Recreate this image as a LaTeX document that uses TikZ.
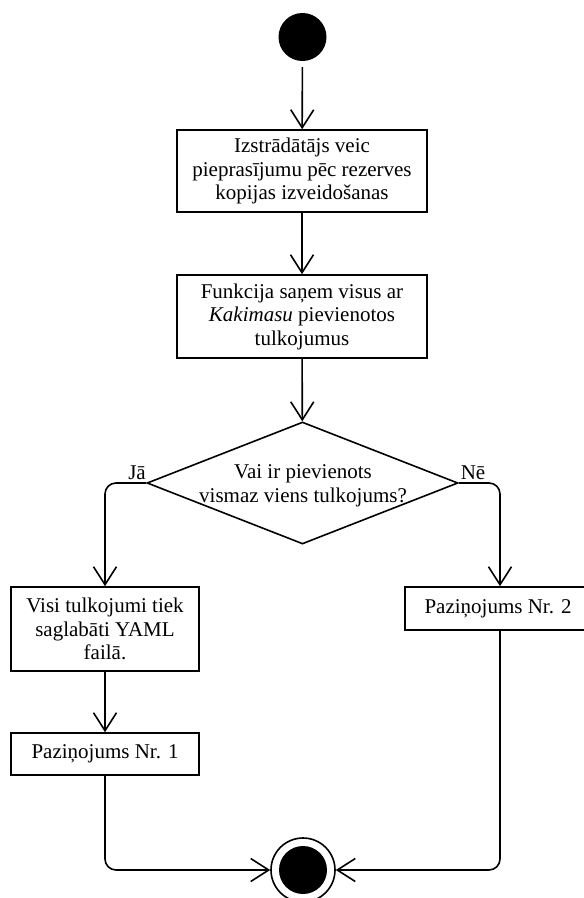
\documentclass[tikz,border=0pt]{standalone}
\usepackage{fontspec}
\setmainfont{Liberation Serif}
\usetikzlibrary{arrows.meta,shapes.geometric}

\tikzset{
  flow/.style={line width=1.6pt, -{Straight Barb[length=18pt,width=23pt,line width=1.6pt]}, rounded corners=11pt},
  action/.style={draw, line width=1.6pt, rectangle, inner sep=0pt, align=center,
                 font=\fontsize{21}{23.5}\selectfont},
  decision/.style={draw, line width=1.6pt, diamond, inner sep=0pt,
                   minimum width=311pt, minimum height=122pt},
  label/.style={font=\fontsize{21}{23.5}\selectfont, inner sep=0pt, align=center},
}

\begin{document}
\begin{tikzpicture}[x=1pt, y=-1pt]
  \useasboundingbox (0,0) rectangle (584,898);

  % initial and final states
  \node (start) [circle, fill=black, minimum size=48pt, inner sep=0pt] at (302.5,37) {};
  \node (stop) [circle, draw, line width=1.6pt, minimum size=64pt, inner sep=0pt] at (303,870) {};
  \node (stopdot) [circle, fill=black, minimum size=48pt, inner sep=0pt] at (303,870) {};

  % actions
  \node (a1) [action, minimum width=250pt, minimum height=82pt] at (302,171)
    {Izstrādātājs veic\\pieprasījumu pēc rezerves\\kopijas izveidošanas};
  \node (a2) [action, minimum width=250pt, minimum height=83pt] at (302,316.5)
    {Funkcija saņem visus ar\\\textit{Kakimasu} pievienotos\\tulkojumus};
  \node (a3) [action, minimum width=188pt, minimum height=84pt] at (105,629)
    {Visi tulkojumi tiek\\saglabāti YAML\\failā.};
  \node (a4) [action, minimum width=188pt, minimum height=42pt] at (105,754)
    {Paziņojums Nr. 1};
  \node (a5) [action, minimum width=186pt, minimum height=43pt] at (498,608.5)
    {Paziņojums Nr. 2};

  % decision
  \node (dec) [decision] at (302.5,483) {};
  \node (dectext) [label] at (303,486) {Vai ir pievienots\\vismaz viens tulkojums?};

  % guard labels
  \node (yes) [label, anchor=base] at (137,479) {Jā};
  \node (no) [label, anchor=base] at (473,479) {Nē};

  % control flow
  \draw[flow, shorten <=6pt] (start) -- (a1);
  \draw[flow] (a1) -- (a2);
  \draw[flow] (a2) -- (dec);
  \draw[flow] (dec.west) -| (a3.north);
  \draw[flow] (dec.east) -| (a5.north -| 500,0);
  \draw[flow] (a3) -- (a4);
  \draw[flow] (a4.south) |- (stop.west);
  \draw[flow] (a5.south -| 500,0) |- (stop.east);
\end{tikzpicture}
\end{document}
